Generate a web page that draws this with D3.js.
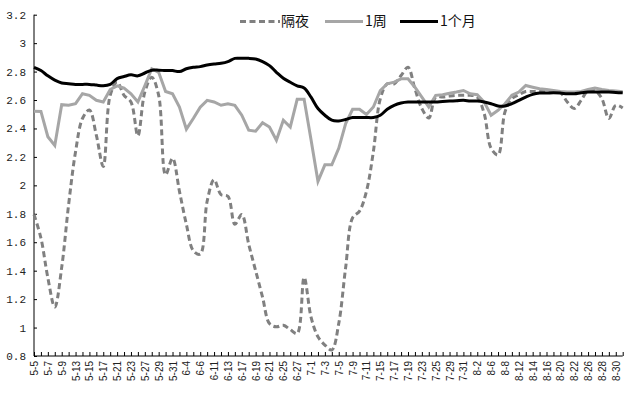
<!DOCTYPE html>
<html>
<head>
<meta charset="utf-8">
<script src="https://cdn.jsdelivr.net/npm/d3@7"></script>
<style>
  body { margin: 0; background: #fff; }
  .axis path, .axis line { stroke: #000; stroke-width: 1; }
</style>
</head>
<body>
<div id="chart"></div>
<script>
// trading days, May - Aug
const dates = ["5-5","5-6","5-7","5-8","5-9","5-10","5-13","5-14","5-15","5-16",
  "5-17","5-20","5-21","5-22","5-23","5-24","5-27","5-28","5-29","5-30",
  "5-31","6-3","6-4","6-5","6-6","6-10","6-11","6-12","6-13","6-14",
  "6-17","6-18","6-19","6-20","6-21","6-24","6-25","6-26","6-27","6-28",
  "7-1","7-2","7-3","7-4","7-5","7-8","7-9","7-10","7-11","7-12",
  "7-15","7-16","7-17","7-18","7-19","7-22","7-23","7-24","7-25","7-26",
  "7-29","7-30","7-31","8-1","8-2","8-5","8-6","8-7","8-8","8-9",
  "8-12","8-13","8-14","8-15","8-16","8-19","8-20","8-21","8-22","8-23",
  "8-26","8-27","8-28","8-29","8-30","9-2"];

const overnight = [1.795,1.63,1.35,1.144,1.423,1.865,2.237,2.47,2.53,2.353,
  2.133,2.633,2.726,2.633,2.586,2.349,2.656,2.76,2.633,2.074,
  2.19,1.958,1.726,1.54,1.516,1.888,2.04,1.935,1.923,1.726,
  1.795,1.586,1.40,1.214,1.028,1.005,1.016,0.986,0.958,1.353,
  1.074,0.935,0.877,0.842,1.028,1.423,1.772,1.819,1.958,2.237,
  2.609,2.714,2.714,2.772,2.83,2.679,2.54,2.474,2.621,2.621,
  2.628,2.633,2.633,2.633,2.621,2.505,2.26,2.214,2.516,2.609,
  2.637,2.66,2.66,2.66,2.66,2.656,2.651,2.586,2.54,2.598,
  2.667,2.667,2.609,2.47,2.563,2.544];

const week = [2.521,2.52,2.342,2.28,2.567,2.563,2.574,2.644,2.633,2.598,
  2.586,2.674,2.70,2.684,2.644,2.586,2.70,2.82,2.795,2.66,
  2.644,2.55,2.395,2.47,2.55,2.598,2.586,2.563,2.574,2.563,
  2.493,2.388,2.381,2.44,2.41,2.317,2.458,2.41,2.605,2.605,
  2.32,2.028,2.144,2.144,2.26,2.435,2.535,2.535,2.498,2.551,
  2.667,2.714,2.726,2.749,2.749,2.69,2.621,2.551,2.633,2.637,
  2.647,2.656,2.667,2.644,2.637,2.586,2.493,2.528,2.574,2.633,
  2.656,2.702,2.69,2.679,2.674,2.667,2.66,2.656,2.656,2.66,
  2.674,2.684,2.674,2.667,2.663,2.658];

const month = [2.83,2.807,2.77,2.74,2.72,2.715,2.71,2.71,2.71,2.705,
  2.70,2.71,2.75,2.765,2.777,2.77,2.79,2.81,2.81,2.807,
  2.807,2.80,2.82,2.83,2.835,2.846,2.853,2.858,2.87,2.893,
  2.893,2.893,2.888,2.87,2.842,2.795,2.753,2.725,2.70,2.684,
  2.62,2.54,2.493,2.458,2.453,2.463,2.477,2.477,2.477,2.477,
  2.493,2.535,2.563,2.579,2.586,2.586,2.586,2.586,2.586,2.59,
  2.593,2.595,2.598,2.593,2.593,2.586,2.574,2.558,2.558,2.574,
  2.598,2.621,2.64,2.649,2.649,2.651,2.649,2.644,2.644,2.651,
  2.656,2.656,2.656,2.656,2.653,2.651];

const seriesNames = ["隔夜", "1周", "1个月"];
const yTicks = [0.8, 1, 1.2, 1.4, 1.6, 1.8, 2, 2.2, 2.4, 2.6, 2.8, 3, 3.2];

const width = 634, height = 397;
const margin = {top: 14.7, right: 11.3, bottom: 41, left: 34};

const svg = d3.select("#chart").append("svg")
    .attr("width", width)
    .attr("height", height);

const x = d3.scalePoint()
    .domain(dates)
    .range([margin.left, width - margin.right]);

const y = d3.scaleLinear()
    .domain([0.8, 3.2])
    .range([height - margin.bottom, margin.top]);

// y axis, ticks pointing inward
const yAxis = svg.append("g")
    .attr("class", "axis")
    .attr("transform", `translate(${margin.left},0)`)
    .call(d3.axisRight(y).tickValues(yTicks).tickSize(3).tickFormat(d3.format("~g")));
yAxis.select(".domain").attr("d", `M0,${y(3.2)}V${y(0.8)}`);
yAxis.selectAll("text")
    .attr("x", -8)
    .style("text-anchor", "end")
    .style("font-family", "'Liberation Mono', monospace")
    .style("font-size", "11px")
    .attr("fill", "#222");

// x axis, tick on every day, label every second day
const xAxis = svg.append("g")
    .attr("class", "axis")
    .attr("transform", `translate(0,${height - margin.bottom})`)
    .call(d3.axisTop(x).tickSize(4).tickSizeOuter(0)
        .tickFormat((d, i) => i % 2 === 0 && i < 85 ? d : ""));
xAxis.select(".domain").attr("d", `M${margin.left},0H${width - margin.right}`);
xAxis.selectAll("text")
    .attr("transform", "rotate(-90)")
    .attr("x", -5)
    .attr("y", 0)
    .attr("dy", "0.35em")
    .style("text-anchor", "end")
    .style("font-family", "'Liberation Sans', Arial, sans-serif")
    .style("font-size", "10px")
    .attr("fill", "#222");

const styles = [
  {data: overnight, color: "#808080", dash: "6,3.5", curve: d3.curveCatmullRom.alpha(0.5)},
  {data: week, color: "#a6a6a6", dash: null, curve: d3.curveLinear},
  {data: month, color: "#000", dash: null, curve: d3.curveCatmullRom.alpha(0.5)}
];

styles.forEach(s => {
  const line = d3.line()
      .x((d, i) => x(dates[i]))
      .y(d => y(d))
      .curve(s.curve);
  svg.append("path")
      .datum(s.data)
      .attr("fill", "none")
      .attr("stroke", s.color)
      .attr("stroke-width", 3)
      .attr("stroke-dasharray", s.dash)
      .attr("d", line);
});

// legend
const legendX = [240, 325, 400];
const legend = svg.selectAll(".legend")
    .data(seriesNames)
    .enter().append("g")
    .attr("class", "legend")
    .attr("transform", (d, i) => `translate(${legendX[i]},21.5)`);

legend.append("line")
    .attr("x1", 0).attr("x2", (d, i) => i === 0 ? 40 : 38)
    .attr("stroke", (d, i) => styles[i].color)
    .attr("stroke-width", 3)
    .attr("stroke-dasharray", (d, i) => styles[i].dash);

legend.append("text")
    .attr("x", (d, i) => i === 0 ? 41 : 40)
    .attr("dy", "0.35em")
    .style("font-family", "'Noto Sans CJK SC', sans-serif")
    .style("font-size", "14px")
    .attr("fill", "#111")
    .text(d => d);
</script>
</body>
</html>
